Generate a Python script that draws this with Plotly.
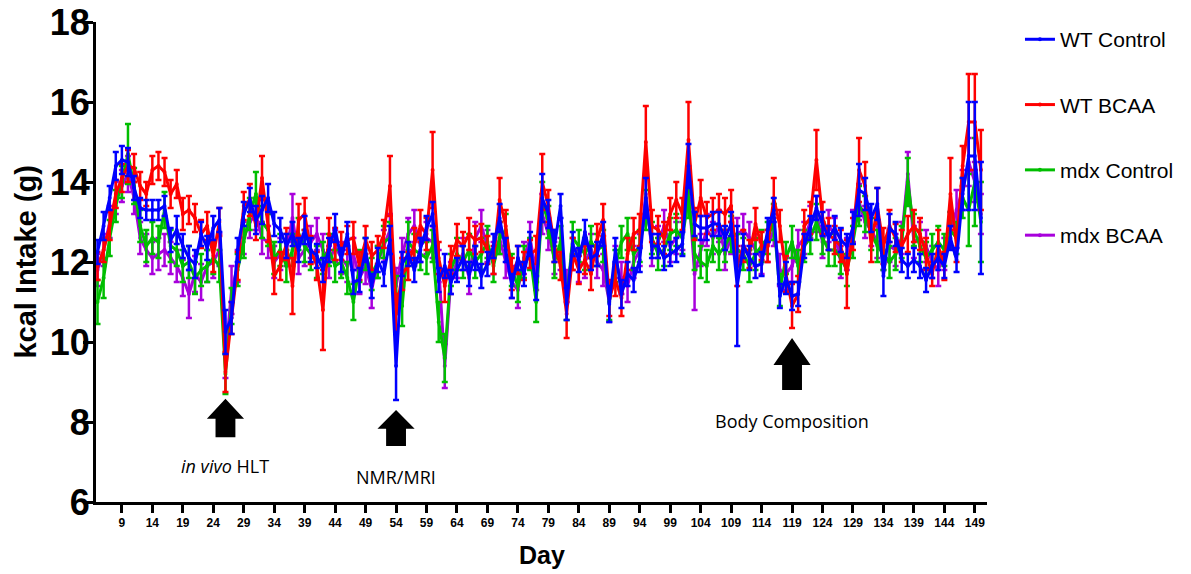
import plotly.graph_objects as go

days = list(range(5, 151))

wt_control = [12.25, 12.9, 13.6, 14.4, 14.55, 14.5, 13.85, 13.35, 13.3, 13.3,
              13.3, 13.4, 12.55, 12.8, 12.4, 12.1, 11.95, 12.7, 12.35, 12.85,
              13.05, 10.25, 10.6, 12.3, 13.2, 13.55, 13.05, 13.3, 13.6, 12.95,
              12.8, 12.4, 12.7, 12.3, 12.8, 12.3, 12.15, 11.8, 12.3, 12.85,
              12.05, 12.7, 11.5, 11.55, 12.3, 11.4, 12.05, 11.7, 12.55, 9.4,
              11.95, 12.2, 11.8, 12.3, 12.85, 13.2, 11.55, 11.9, 11.5, 11.8,
              12.1, 11.7, 12.1, 11.65, 11.95, 12.4, 13.1, 12.3, 11.4, 12.1,
              11.7, 12.45, 11.35, 13.6, 13.2, 12.4, 13.4, 10.95, 12.45, 12.05,
              12.75, 12.1, 12.2, 12.7, 10.95, 12.3, 11.2, 11.7, 11.55, 12.05,
              13.6, 12.4, 12.4, 12.1, 12.2, 12.3, 12.45, 14.4, 12.95, 12.85,
              12.85, 12.95, 12.95, 12.6, 12.95, 11.4, 12.4, 12.1, 11.9, 11.95,
              12.8, 13.3, 11.15, 11.6, 11.15, 11.2, 12.4, 12.85, 13.35, 12.95,
              12.6, 12.85, 12.55, 12.4, 12.85, 13.8, 13.7, 13.1, 13.45, 11.65,
              12.85, 12.7, 12.05, 11.9, 12.05, 11.9, 11.55, 11.9, 12.1, 11.9,
              12.6, 12.05, 13.7, 14.65, 14.65, 13.1]
wt_control_err = [0.3, 0.35, 0.3, 0.35, 0.35, 0.35, 0.3, 0.25, 0.25, 0.25,
                  0.25, 0.25, 0.3, 0.35, 0.3, 0.3, 0.35, 0.3, 0.3, 0.3,
                  0.3, 0.55, 0.4, 0.3, 0.3, 0.3, 0.35, 0.35, 0.35, 0.3,
                  0.3, 0.3, 0.3, 0.3, 0.35, 0.3, 0.3, 0.3, 0.3, 0.35,
                  0.3, 0.3, 0.3, 0.3, 0.3, 0.3, 0.3, 0.3, 0.35, 0.85,
                  0.3, 0.3, 0.3, 0.3, 0.3, 0.3, 0.3, 0.3, 0.3, 0.3,
                  0.3, 0.3, 0.3, 0.3, 0.3, 0.3, 0.35, 0.3, 0.3, 0.3,
                  0.3, 0.3, 0.3, 0.6, 0.35, 0.4, 0.3, 0.4, 0.3, 0.3,
                  0.3, 0.3, 0.3, 0.3, 0.45, 0.3, 0.35, 0.3, 0.3, 0.3,
                  0.5, 0.3, 0.3, 0.3, 0.3, 0.3, 0.3, 0.55, 0.3, 0.3,
                  0.3, 0.3, 0.3, 0.3, 0.3, 1.5, 0.3, 0.3, 0.3, 0.3,
                  0.3, 0.3, 0.3, 0.4, 0.35, 0.3, 0.3, 0.3, 0.3, 0.3,
                  0.3, 0.3, 0.3, 0.3, 0.4, 0.65, 0.4, 0.35, 0.4, 0.5,
                  0.35, 0.3, 0.3, 0.3, 0.3, 0.3, 0.3, 0.3, 0.3, 0.3,
                  0.3, 0.3, 0.4, 1.35, 1.35, 1.4]

wt_bcaa = [11.9, 12.3, 12.9, 13.7, 14.1, 14.4, 14.35, 13.9, 13.7, 14.3,
           14.4, 14.25, 13.7, 13.95, 13.2, 13.3, 13.1, 12.7, 12.9, 12.15,
           13.0, 9.25, 10.6, 11.9, 13.4, 13.55, 12.9, 14.1, 12.9, 11.65,
           11.9, 12.45, 11.4, 13.05, 13.2, 12.3, 11.9, 10.8, 12.7, 12.45,
           12.4, 12.55, 12.6, 11.9, 12.55, 12.15, 12.3, 12.7, 13.9, 10.7,
           11.7, 11.9, 12.45, 12.9, 12.7, 14.3, 12.1, 11.4, 12.05, 12.55,
           12.4, 12.7, 12.55, 12.6, 12.3, 12.05, 13.55, 12.9, 11.7, 12.05,
           11.9, 12.2, 12.3, 14.0, 13.4, 12.4, 11.9, 10.7, 12.2, 11.8,
           12.05, 11.7, 12.55, 13.05, 11.1, 11.55, 11.1, 12.2, 12.7, 12.8,
           15.0, 12.9, 12.8, 12.6, 13.2, 13.55, 13.2, 15.05, 12.95, 13.6,
           13.1, 13.2, 13.3, 13.2, 13.4, 11.9, 12.4, 12.2, 12.95, 12.4,
           12.4, 13.6, 12.9, 11.7, 10.9, 11.2, 12.9, 13.1, 14.55, 13.1,
           12.7, 12.55, 12.4, 11.7, 12.7, 14.3, 13.9, 12.4, 13.4, 12.4,
           12.9, 12.6, 12.4, 12.7, 12.9, 12.7, 12.2, 11.7, 12.4, 11.9,
           13.7, 12.4, 14.4, 15.5, 15.5, 14.3]
wt_bcaa_err = [0.35, 0.3, 0.35, 0.35, 0.35, 0.4, 0.35, 0.35, 0.3, 0.35,
               0.35, 0.35, 0.35, 0.35, 0.4, 0.35, 0.35, 0.35, 0.35, 0.4,
               0.35, 0.5, 0.4, 0.35, 0.35, 0.4, 0.35, 0.55, 0.4, 0.45,
               0.35, 0.4, 0.7, 0.4, 0.4, 0.35, 0.35, 1.0, 0.4, 0.4,
               0.35, 0.35, 0.4, 0.35, 0.35, 0.35, 0.35, 0.35, 0.75, 0.5,
               0.4, 0.35, 0.4, 0.4, 0.4, 0.95, 0.4, 0.4, 0.35, 0.4,
               0.35, 0.4, 0.35, 0.35, 0.35, 0.35, 0.55, 0.4, 0.4, 0.35,
               0.35, 0.35, 0.35, 0.7, 0.4, 0.4, 0.35, 0.6, 0.4, 0.35,
               0.35, 0.4, 0.4, 0.4, 0.45, 0.4, 0.45, 0.4, 0.4, 0.4,
               0.9, 0.4, 0.35, 0.4, 0.4, 0.45, 0.4, 0.95, 0.4, 0.45,
               0.4, 0.4, 0.4, 0.4, 0.4, 0.5, 0.4, 0.35, 0.4, 0.35,
               0.4, 0.5, 0.4, 0.45, 0.55, 0.45, 0.4, 0.4, 0.75, 0.4,
               0.4, 0.35, 0.4, 0.85, 0.4, 0.8, 0.6, 0.4, 0.45, 0.45,
               0.4, 0.35, 0.4, 0.45, 0.4, 0.4, 0.4, 0.3, 0.4, 0.35,
               0.9, 0.4, 0.5, 1.2, 1.2, 1.0]

mdx_control = [11.0, 11.6, 12.6, 13.4, 14.0, 14.7, 13.9, 12.9, 12.4, 12.6,
               12.5, 13.3, 12.4, 12.3, 11.9, 12.0, 11.6, 11.8, 11.9, 12.1,
               11.9, 9.2, 10.9, 11.8, 12.5, 13.2, 13.7, 13.0, 12.8, 12.1,
               12.3, 11.9, 12.3, 12.7, 12.4, 12.2, 12.0, 12.1, 12.3, 11.9,
               12.0, 11.6, 11.0, 11.9, 12.2, 11.7, 12.0, 12.5, 12.6, 11.2,
               10.9, 12.5, 12.3, 12.2, 12.1, 12.4, 10.5, 9.6, 11.8, 12.2,
               12.0, 12.3, 12.0, 12.2, 12.5, 11.9, 12.6, 12.8, 11.8, 11.4,
               12.0, 12.2, 11.0, 13.5, 13.0, 12.0, 12.5, 11.0, 12.6, 12.4,
               12.2, 12.5, 12.3, 12.4, 11.0, 11.9, 12.5, 12.7, 12.2, 12.4,
               13.3, 12.6, 12.2, 12.3, 12.7, 12.8, 12.6, 13.6, 12.2, 12.0,
               11.9, 12.4, 12.2, 12.4, 12.7, 12.3, 12.2, 11.9, 12.2, 12.4,
               12.6, 13.0, 11.3, 12.1, 12.5, 11.9, 12.4, 12.6, 13.0, 12.6,
               12.3, 12.3, 12.1, 11.8, 12.5, 13.4, 13.2, 12.7, 12.4, 12.2,
               12.0, 12.2, 12.5, 14.0, 12.8, 12.4, 12.1, 12.3, 12.5, 12.3,
               12.8, 12.6, 13.6, 13.3, 14.0, 13.0]
mdx_control_err = [0.55, 0.5, 0.45, 0.4, 0.4, 0.75, 0.45, 0.4, 0.4, 0.4,
                   0.4, 0.45, 0.4, 0.4, 0.4, 0.4, 0.4, 0.4, 0.4, 0.4,
                   0.4, 0.5, 0.45, 0.4, 0.4, 0.4, 0.55, 0.4, 0.4, 0.4,
                   0.4, 0.4, 0.4, 0.4, 0.4, 0.4, 0.4, 0.4, 0.4, 0.4,
                   0.4, 0.4, 0.45, 0.4, 0.4, 0.4, 0.4, 0.4, 0.4, 0.45,
                   0.5, 0.5, 0.4, 0.4, 0.4, 0.4, 0.5, 0.6, 0.4, 0.4,
                   0.4, 0.4, 0.4, 0.4, 0.4, 0.4, 0.4, 0.4, 0.4, 0.4,
                   0.4, 0.4, 0.5, 0.5, 0.4, 0.4, 0.4, 0.45, 0.4, 0.4,
                   0.4, 0.4, 0.4, 0.4, 0.45, 0.4, 0.4, 0.4, 0.4, 0.4,
                   0.5, 0.4, 0.4, 0.4, 0.4, 0.4, 0.4, 0.5, 0.4, 0.4,
                   0.4, 0.4, 0.4, 0.4, 0.45, 0.4, 0.4, 0.4, 0.4, 0.4,
                   0.4, 0.45, 0.4, 0.4, 0.4, 0.4, 0.4, 0.4, 0.45, 0.4,
                   0.4, 0.4, 0.4, 0.4, 0.4, 0.5, 0.45, 0.4, 0.4, 0.4,
                   0.4, 0.4, 0.4, 0.6, 0.4, 0.4, 0.4, 0.4, 0.4, 0.4,
                   0.45, 0.4, 0.5, 0.9, 1.1, 1.0]

mdx_bcaa = [11.8, 12.3, 13.0, 13.6, 13.9, 14.2, 13.6, 12.6, 12.3, 12.1,
            12.2, 12.3, 12.1, 11.9, 11.6, 11.2, 11.7, 11.5, 11.9, 12.0,
            12.3, 9.6, 11.3, 11.9, 12.6, 13.0, 13.2, 12.6, 12.5, 12.0,
            12.2, 12.3, 13.1, 12.1, 12.3, 12.5, 12.7, 12.3, 12.0, 12.4,
            12.1, 11.9, 12.2, 11.6, 11.9, 11.3, 12.0, 12.4, 12.8, 11.4,
            12.2, 12.7, 12.9, 12.4, 12.6, 12.5, 11.9, 9.4, 11.6, 12.0,
            12.2, 11.6, 12.6, 12.9, 12.4, 12.1, 12.6, 12.0, 11.5, 11.3,
            12.1, 12.6, 11.7, 13.2, 12.7, 12.1, 12.2, 11.4, 12.2, 11.9,
            12.0, 12.3, 12.0, 11.8, 11.0, 12.0, 11.6, 11.4, 12.0, 12.3,
            13.7, 12.3, 12.5, 12.9, 12.4, 12.6, 12.7, 13.9, 11.7, 12.3,
            12.8, 12.6, 12.9, 12.2, 12.6, 12.7, 12.8, 12.6, 12.3, 12.1,
            12.4, 12.8, 11.8, 11.7, 11.9, 12.4, 12.6, 13.0, 13.2, 12.5,
            12.9, 12.7, 12.0, 12.2, 12.9, 13.5, 13.0, 12.8, 12.5, 12.2,
            12.4, 12.3, 12.6, 14.2, 12.5, 12.6, 12.4, 12.0, 11.8, 12.2,
            12.8, 13.3, 13.8, 14.5, 14.0, 13.2]
mdx_bcaa_err = [0.4, 0.4, 0.4, 0.4, 0.4, 0.45, 0.4, 0.4, 0.4, 0.4,
                0.4, 0.4, 0.4, 0.4, 0.45, 0.6, 0.45, 0.45, 0.4, 0.4,
                0.4, 0.5, 0.6, 0.4, 0.4, 0.4, 0.4, 0.4, 0.4, 0.4,
                0.4, 0.4, 0.6, 0.4, 0.4, 0.4, 0.4, 0.4, 0.4, 0.4,
                0.4, 0.4, 0.4, 0.4, 0.45, 0.45, 0.4, 0.4, 0.4, 0.45,
                0.4, 0.4, 0.4, 0.4, 0.4, 0.4, 0.4, 0.55, 0.4, 0.4,
                0.4, 0.4, 0.4, 0.4, 0.4, 0.4, 0.4, 0.4, 0.4, 0.45,
                0.4, 0.4, 0.4, 0.5, 0.4, 0.4, 0.4, 0.4, 0.4, 0.4,
                0.4, 0.4, 0.4, 0.4, 0.5, 0.4, 0.4, 0.4, 0.4, 0.4,
                0.5, 0.4, 0.4, 0.4, 0.4, 0.4, 0.4, 0.5, 0.9, 0.4,
                0.4, 0.4, 0.4, 0.4, 0.4, 0.4, 0.4, 0.4, 0.4, 0.4,
                0.4, 0.4, 0.4, 0.4, 0.4, 0.4, 0.4, 0.4, 0.45, 0.4,
                0.4, 0.4, 0.4, 0.4, 0.4, 0.45, 0.4, 0.4, 0.4, 0.4,
                0.4, 0.4, 0.4, 0.55, 0.4, 0.4, 0.4, 0.4, 0.4, 0.4,
                0.45, 0.5, 0.5, 0.6, 0.5, 0.5]

# drawing order (bottom to top) and legend rank (top to bottom in legend)
series_names = ["mdx BCAA", "mdx Control", "WT BCAA", "WT Control"]
series_values = [mdx_bcaa, mdx_control, wt_bcaa, wt_control]
series_errors = [mdx_bcaa_err, mdx_control_err, wt_bcaa_err, wt_control_err]
series_colors = ["#A800DC", "#00BE00", "#FF0000", "#0000FF"]
series_rank = [4, 3, 2, 1]

x_ticks = list(range(9, 150, 5))
y_ticks = [6, 8, 10, 12, 14, 16, 18]

# event markers: day, arrow tip value, arrow base value, label, label value
events_day = [26, 54, 119]
events_tip = [8.58, 8.3, 10.1]
events_base = [7.62, 7.4, 8.8]
events_label = ["<i>in vivo</i> HLT", "NMR/MRI", "Body Composition"]
events_label_y = [6.9, 6.63, 8.03]

fig = go.Figure()
for name, vals, errs, col, rk in zip(series_names, series_values, series_errors,
                                     series_colors, series_rank):
    fig.add_trace(go.Scatter(
        x=days, y=vals, name=name, mode="lines+markers",
        legendgroup=name, legendrank=rk,
        line=dict(color=col, width=3),
        marker=dict(color=col, size=4),
        error_y=dict(type="data", array=errs, visible=True, color=col,
                     thickness=2.5, width=3),
    ))

shapes = []
annotations = []
for d, tip, base, lab, ly in zip(events_day, events_tip, events_base, events_label, events_label_y):
    head_h = (tip - base) * 0.52
    hw = 3.05
    sw = 1.63
    neck = tip - head_h
    path = (f"M {d - hw},{neck} L {d},{tip} L {d + hw},{neck} L {d + sw},{neck} "
            f"L {d + sw},{base} L {d - sw},{base} L {d - sw},{neck} Z")
    shapes.append(dict(type="path", path=path, xref="x", yref="y",
                       fillcolor="black", line=dict(color="black", width=0)))
    annotations.append(dict(x=d, y=ly, xref="x", yref="y", text=lab, showarrow=False,
                            font=dict(family="Open Sans", size=18, color="black"),
                            xanchor="center", yanchor="middle"))

annotations.append(dict(x=-0.079, y=0.5, xref="paper", yref="paper",
                        text="kcal Intake (g)", textangle=-90, showarrow=False,
                        font=dict(family="Liberation Sans", size=29, color="black", weight="bold"),
                        xanchor="center", yanchor="middle"))
annotations.append(dict(x=0.5, y=-0.11, xref="paper", yref="paper",
                        text="Day", showarrow=False,
                        font=dict(family="Liberation Sans", size=25, color="black", weight="bold"),
                        xanchor="center", yanchor="middle"))

fig.update_layout(
    width=1191, height=574,
    margin=dict(l=96, r=200, t=22, b=72),
    paper_bgcolor="white", plot_bgcolor="white",
    shapes=shapes, annotations=annotations,
    showlegend=True,
    legend=dict(x=1.037, y=1.006, xanchor="left", yanchor="top",
                traceorder="grouped", tracegroupgap=35,
                font=dict(family="Liberation Sans", size=21, color="black"),
                bgcolor="rgba(0,0,0,0)", itemwidth=30),
    xaxis=dict(range=[4.75, 151], tickvals=x_ticks, ticktext=[str(t) for t in x_ticks],
               automargin=False,
               showgrid=False, zeroline=False, showline=True, linecolor="black", linewidth=3,
               ticks="outside", ticklen=8, tickwidth=3, tickcolor="black",
               tickfont=dict(family="Liberation Sans", size=12, color="black", weight="bold")),
    yaxis=dict(range=[6, 18], tickvals=y_ticks, ticktext=[str(t) for t in y_ticks],
               automargin=False, ticklabelstandoff=-14,
               showgrid=False, zeroline=False, showline=True, linecolor="black", linewidth=3,
               ticks="outside", ticklen=10, tickwidth=3, tickcolor="black",
               tickfont=dict(family="Liberation Sans", size=36, color="black", weight="bold")),
)

fig.write_html("out.html")
